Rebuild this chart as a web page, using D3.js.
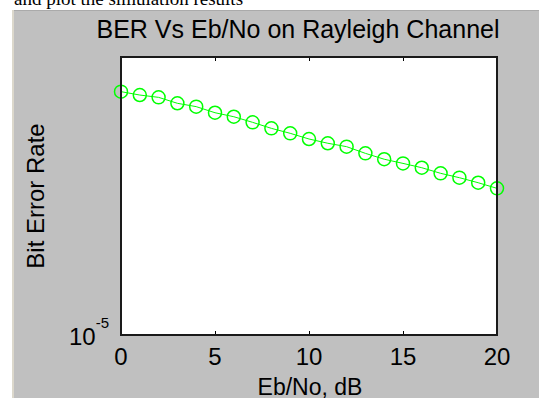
<!DOCTYPE html>
<html lang="en">

<head>
  <meta charset="utf-8">
  <title>BER Vs Eb/No on Rayleigh Channel</title>
  <script type="text/javascript" src="https://cdn.jsdelivr.net/npm/d3@7"></script>
  <style type="text/css">
    body { margin: 0; background: #ffffff; }
    svg { display: block; }
  </style>
</head>

<body>
  <script type="text/javascript">
    // Data
    const ebNo = [0, 1, 2, 3, 4, 5, 6, 7, 8, 9, 10, 11, 12, 13, 14, 15, 16, 17, 18, 19, 20];
    const ber = [0.238, 0.207, 0.188, 0.147, 0.128, 0.0995, 0.0843, 0.0668, 0.0521, 0.0424,
      0.0335, 0.0281, 0.0244, 0.0185, 0.0145, 0.0122, 0.0102, 0.00809, 0.00675, 0.00548, 0.00434];
    const xTicks = [0, 5, 10, 15, 20];
    const yDomain = [1e-5, 1];

    const titleText = "BER Vs Eb/No on Rayleigh Channel";
    const xLabel = "Eb/No, dB";
    const yLabel = "Bit Error Rate";

    // Width og height
    const w = 539;
    const h = 399;
    const box = { left: 121, right: 497, top: 57, bottom: 335 };
    const font = "'Liberation Sans', Arial, sans-serif";

    const svg = d3.select("body")
      .append("svg")
      .attr("width", w)
      .attr("height", h);

    // Text cut off above the figure
    svg.append("text")
      .attr("x", 14)
      .attr("y", 5)
      .attr("font-family", "'Liberation Serif', 'Times New Roman', serif")
      .attr("font-size", 19)
      .attr("fill", "#000")
      .text("and plot the simulation results");

    // Figure background
    svg.append("rect")
      .attr("x", 12)
      .attr("y", 10)
      .attr("width", w - 12)
      .attr("height", h - 11)
      .attr("fill", "#c0c0c0");
    svg.append("line")
      .attr("x1", 12).attr("x2", w)
      .attr("y1", 10.5).attr("y2", 10.5)
      .attr("stroke", "#aaaaaa");
    svg.append("rect")
      .attr("x", 12)
      .attr("y", 10)
      .attr("width", 2)
      .attr("height", h - 11)
      .attr("fill", "#dcd8cc");

    // Scale-funktioner
    const xScale = d3.scaleLinear()
      .domain([0, 20])
      .range([box.left, box.right]);

    const yScale = d3.scaleLog()
      .domain(yDomain)
      .range([box.bottom, box.top]);

    // Axes area
    svg.append("rect")
      .attr("x", box.left)
      .attr("y", box.top)
      .attr("width", box.right - box.left)
      .attr("height", box.bottom - box.top)
      .attr("fill", "#ffffff");

    // Ticks inward, top and bottom
    const xAxisBottom = d3.axisBottom(xScale)
      .tickValues(xTicks)
      .tickSize(-4)
      .tickFormat("");
    svg.append("g")
      .attr("transform", "translate(0," + box.bottom + ")")
      .call(xAxisBottom)
      .call(g => g.select(".domain").remove())
      .selectAll("line").attr("stroke", "#000");

    const xAxisTop = d3.axisTop(xScale)
      .tickValues(xTicks)
      .tickSize(-4)
      .tickFormat("");
    svg.append("g")
      .attr("transform", "translate(0," + box.top + ")")
      .call(xAxisTop)
      .call(g => g.select(".domain").remove())
      .selectAll("line").attr("stroke", "#000");

    // Tick labels
    svg.selectAll("text.xtick")
      .data(xTicks)
      .enter()
      .append("text")
      .attr("class", "xtick")
      .attr("x", d => xScale(d))
      .attr("y", 365)
      .attr("text-anchor", "middle")
      .attr("font-family", font)
      .attr("font-size", 24)
      .attr("fill", "#000")
      .text(d => d);

    // y tick label 10^-5
    const yt = svg.append("text")
      .attr("x", 69)
      .attr("y", yScale(yDomain[0]) + 10)
      .attr("font-family", font)
      .attr("font-size", 24)
      .attr("fill", "#000");
    yt.append("tspan").text("10");
    yt.append("tspan")
      .attr("font-size", 15)
      .attr("dy", -17)
      .text("-5");

    // Line and markers
    const line = d3.line()
      .x((d, i) => xScale(ebNo[i]))
      .y(d => yScale(d));

    svg.append("path")
      .datum(ber)
      .attr("d", line)
      .attr("fill", "none")
      .attr("stroke", "#00ff00")
      .attr("stroke-width", 1);

    svg.selectAll("circle")
      .data(ber)
      .enter()
      .append("circle")
      .attr("cx", (d, i) => xScale(ebNo[i]))
      .attr("cy", d => yScale(d))
      .attr("r", 6.5)
      .attr("fill", "none")
      .attr("stroke", "#00ff00")
      .attr("stroke-width", 1.5);

    // Box border
    svg.append("rect")
      .attr("x", box.left)
      .attr("y", box.top)
      .attr("width", box.right - box.left)
      .attr("height", box.bottom - box.top)
      .attr("fill", "none")
      .attr("stroke", "#1a1a1a")
      .attr("stroke-width", 2);

    // Title and labels
    svg.append("text")
      .attr("x", 298)
      .attr("y", 38)
      .attr("text-anchor", "middle")
      .attr("font-family", font)
      .attr("font-size", 25)
      .attr("fill", "#000")
      .text(titleText);

    svg.append("text")
      .attr("x", 310)
      .attr("y", 395)
      .attr("text-anchor", "middle")
      .attr("font-family", font)
      .attr("font-size", 23)
      .attr("fill", "#000")
      .text(xLabel);

    svg.append("text")
      .attr("transform", "translate(44," + ((box.top + box.bottom) / 2) + ") rotate(-90)")
      .attr("text-anchor", "middle")
      .attr("font-family", font)
      .attr("font-size", 24)
      .attr("fill", "#000")
      .text(yLabel);
  </script>
</body>

</html>
